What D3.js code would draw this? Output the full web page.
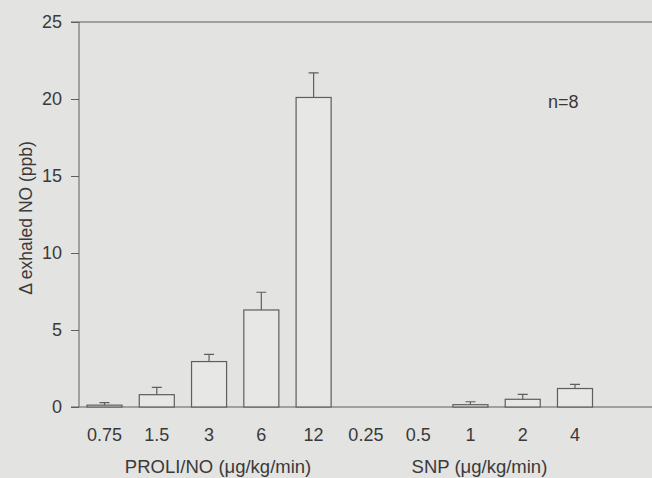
<!DOCTYPE html>
<html>
<head>
<meta charset="utf-8">
<script src="https://cdn.jsdelivr.net/npm/d3@7"></script>
<style>
  html, body { margin: 0; padding: 0; background: #e3e3e1; }
  svg { display: block; }
  text { font-family: "Liberation Sans", Arial, sans-serif; fill: #3a3a3a; }
</style>
</head>
<body>
<div id="chart"></div>
<script>
// data
const doses = ["0.75", "1.5", "3", "6", "12", "0.25", "0.5", "1", "2", "4"];
const drug = ["PROLI/NO", "PROLI/NO", "PROLI/NO", "PROLI/NO", "PROLI/NO", "SNP", "SNP", "SNP", "SNP", "SNP"];
const means = [0.12, 0.8, 2.95, 6.3, 20.1, 0, 0, 0.15, 0.5, 1.2];
const sems = [0.17, 0.48, 0.47, 1.15, 1.6, 0, 0, 0.19, 0.32, 0.27];
const yTicks = [0, 5, 10, 15, 20, 25];
const groupNames = ["PROLI/NO", "SNP"];
const groupTitles = ["PROLI/NO (\u03bcg/kg/min)", "SNP (\u03bcg/kg/min)"];

const width = 652, height = 478;
const margin = {top: 22, right: 0, bottom: 71, left: 79};
const lineColor = "#5e5e5e";
const fontSize = "18px";

const svg = d3.select("#chart").append("svg")
  .attr("width", width)
  .attr("height", height);

const keys = doses.map((d, i) => i);

const x = d3.scaleBand()
  .domain(keys)
  .range([87, 592.5])
  .paddingInner(0.33)
  .paddingOuter(0);

const y = d3.scaleLinear()
  .domain([0, 25])
  .range([height - margin.bottom, margin.top]);

// y axis
const yAxis = svg.append("g")
  .attr("transform", "translate(" + margin.left + ",0)")
  .call(d3.axisLeft(y).tickValues(yTicks).tickSize(8).tickPadding(9));
yAxis.select(".domain").attr("stroke", lineColor).attr("d", "M0," + y(0) + "V" + y(25));
yAxis.selectAll(".tick line").attr("stroke", lineColor);
yAxis.selectAll(".tick text")
  .style("font-size", fontSize)
  .attr("fill", "#3a3a3a");

// top frame line and baseline
[25, 0].forEach(v => {
  svg.append("line")
    .attr("x1", margin.left - 8).attr("x2", width)
    .attr("y1", y(v)).attr("y2", y(v))
    .attr("stroke", lineColor)
    .attr("stroke-width", 1);
});

svg.append("text")
  .attr("transform", "rotate(-90)")
  .attr("x", -218)
  .attr("y", 32)
  .style("text-anchor", "middle")
  .style("font-size", "17.5px")
  .text("\u0394 exhaled NO (ppb)");

// bars
const rows = keys.filter(i => means[i] > 0);

svg.selectAll(".bar")
  .data(rows)
  .enter().append("rect")
  .attr("class", "bar")
  .attr("x", i => x(i))
  .attr("y", i => y(means[i]))
  .attr("width", x.bandwidth())
  .attr("height", i => y(0) - y(means[i]))
  .attr("fill", "#e7e7e5")
  .attr("stroke", lineColor)
  .attr("stroke-width", 1.2);

// error bars (upper only)
const cap = 10;
svg.selectAll(".err")
  .data(rows)
  .enter().append("path")
  .attr("class", "err")
  .attr("d", i => {
    const cx = x(i) + x.bandwidth() / 2;
    const top = y(means[i] + sems[i]);
    return "M" + cx + "," + y(means[i]) + "V" + top +
           "M" + (cx - cap / 2) + "," + top + "H" + (cx + cap / 2);
  })
  .attr("fill", "none")
  .attr("stroke", lineColor)
  .attr("stroke-width", 1.2);

// dose labels
const xAxis = svg.append("g")
  .attr("transform", "translate(0," + y(0) + ")")
  .call(d3.axisBottom(x).tickFormat(i => doses[i]).tickSize(0).tickPadding(21));
xAxis.select(".domain").remove();
xAxis.selectAll(".tick text")
  .style("font-size", fontSize)
  .attr("fill", "#3a3a3a");

// group titles, centred a little right of each group's middle dose
groupTitles.forEach((t, g) => {
  const idx = keys.filter(i => drug[i] === groupNames[g]);
  const mid = idx[Math.floor(idx.length / 2)];
  svg.append("text")
    .attr("x", x(mid) + x.bandwidth() / 2 + 9)
    .attr("y", 473)
    .style("text-anchor", "middle")
    .style("font-size", "18.5px")
    .text(t);
});

svg.append("text")
  .attr("x", 548)
  .attr("y", y(19.4))
  .style("font-size", fontSize)
  .text("n=8");
</script>
</body>
</html>
